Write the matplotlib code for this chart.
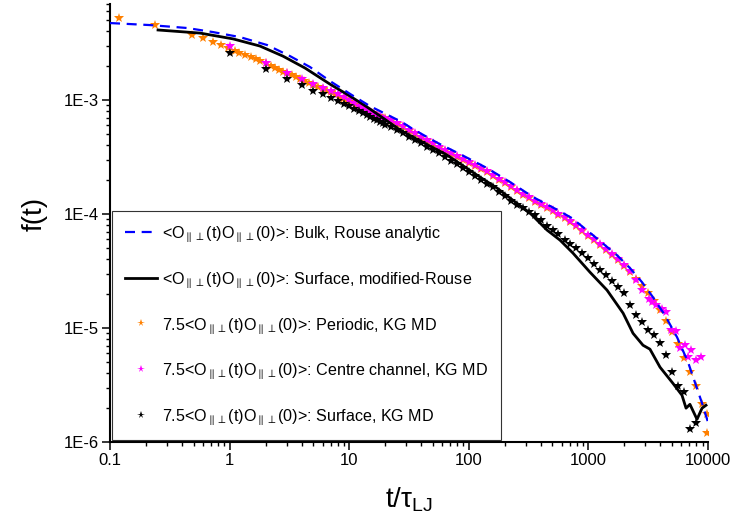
import matplotlib
matplotlib.use('Agg')
import matplotlib.pyplot as plt
import numpy as np
from matplotlib.ticker import FixedLocator, LogLocator, FuncFormatter, NullFormatter

# 字体
plt.rcParams['font.family'] = ['Liberation Sans', 'DejaVu Sans']
plt.rcParams['mathtext.fontset'] = 'custom'
plt.rcParams['mathtext.rm'] = 'Liberation Sans'
plt.rcParams['mathtext.it'] = 'Liberation Sans:italic'

# Bulk, Rouse analytic (blue dashed)
rouse_t = [0.1, 0.216, 0.44, 0.726, 1.22, 2.06, 3.2, 4.7, 6.9, 10.2,
           14.9, 21.9, 27.6, 34.1, 55.2, 87.6, 142, 221, 344, 557,
           729, 1090, 1730, 2230, 2810, 3470, 4370, 5510, 6810, 8910, 10000]
rouse_f = [4.74e-3, 4.55e-3, 4.29e-3, 3.95e-3, 3.57e-3, 3.04e-3, 2.43e-3, 1.95e-3, 1.47e-3, 1.13e-3,
           8.85e-4, 7.24e-4, 6.41e-4, 5.56e-4, 4.19e-4, 3.29e-4, 2.53e-4, 1.91e-4, 1.41e-4, 1.08e-4,
           9.20e-5, 6.53e-5, 4.36e-5, 3.35e-5, 2.52e-5, 1.86e-5, 1.29e-5, 8.30e-6, 5.01e-6, 2.19e-6, 1.49e-6]

# Surface, modified-Rouse (black line)
surf_t = [0.252, 0.566, 1.07, 1.79, 2.79, 4.27, 6.9, 10.2, 14.1, 19.2,
          26.6, 34.1, 65.8, 124, 172, 234, 325, 451, 579, 743,
          1030, 1430, 1950, 2360, 2860, 3270, 3970, 5090, 6060, 6550,
          7060, 8090, 8910, 9620]
surf_f = [4.12e-3, 3.87e-3, 3.44e-3, 2.98e-3, 2.43e-3, 1.91e-3, 1.38e-3, 1.08e-3, 8.69e-4, 6.95e-4,
          5.46e-4, 4.73e-4, 3.29e-4, 2.11e-4, 1.69e-4, 1.32e-4, 1.02e-4, 7.23e-5, 5.90e-5, 4.54e-5,
          3.09e-5, 2.15e-5, 1.35e-5, 8.99e-6, 7.06e-6, 6.52e-6, 4.53e-6, 3.27e-6, 2.57e-6, 1.98e-6,
          2.14e-6, 1.58e-6, 1.98e-6, 2.10e-6]

# Periodic, KG MD (orange stars)
per_t = [0.12, 0.24, 0.48, 0.6, 0.72, 0.84, 0.96, 1.1, 1.2, 1.35,
         1.5, 1.65, 1.8, 2.0, 2.2, 2.4, 2.6, 2.8, 3.0, 3.3,
         3.6, 3.9, 4.2, 4.6, 5.0, 5.5, 6.0, 6.5, 7.0, 7.6,
         8.2, 8.9, 9.6, 10.0, 11.2, 12.6, 14.1, 15.8, 17.8, 20.0,
         22.4, 25.1, 28.2, 31.6, 35.5, 39.8, 44.7, 50.1, 56.2, 63.1,
         70.8, 79.4, 89.1, 100, 112, 126, 141, 158, 178, 200,
         224, 251, 282, 316, 355, 398, 447, 501, 562, 631,
         708, 794, 891, 1000, 1122, 1259, 1413, 1585, 1778, 1995,
         2239, 2512, 2818, 3162, 3548, 3981, 4467, 5012, 5623, 6310,
         7079, 7943, 8913, 9772, 9900]
per_f = [5.25e-3, 4.56e-3, 3.72e-3, 3.47e-3, 3.23e-3, 3.04e-3, 2.89e-3, 2.72e-3, 2.61e-3, 2.48e-3,
         2.39e-3, 2.29e-3, 2.20e-3, 2.11e-3, 2.01e-3, 1.93e-3, 1.85e-3, 1.78e-3, 1.73e-3, 1.66e-3,
         1.59e-3, 1.53e-3, 1.47e-3, 1.41e-3, 1.35e-3, 1.30e-3, 1.25e-3, 1.21e-3, 1.18e-3, 1.12e-3,
         1.07e-3, 1.03e-3, 9.90e-4, 9.70e-4, 9.13e-4, 8.59e-4, 8.09e-4, 7.69e-4, 7.31e-4, 6.95e-4,
         6.61e-4, 6.22e-4, 5.85e-4, 5.40e-4, 5.03e-4, 4.69e-4, 4.37e-4, 4.11e-4, 3.83e-4, 3.60e-4,
         3.39e-4, 3.19e-4, 3.00e-4, 2.83e-4, 2.66e-4, 2.48e-4, 2.33e-4, 2.17e-4, 2.00e-4, 1.87e-4,
         1.72e-4, 1.60e-4, 1.48e-4, 1.38e-4, 1.28e-4, 1.20e-4, 1.13e-4, 1.06e-4, 9.88e-5, 9.20e-5,
         8.57e-5, 7.83e-5, 7.08e-5, 6.46e-5, 5.90e-5, 5.33e-5, 4.82e-5, 4.36e-5, 3.94e-5, 3.49e-5,
         3.09e-5, 2.71e-5, 2.35e-5, 2.02e-5, 1.72e-5, 1.43e-5, 1.15e-5, 9.19e-6, 7.21e-6, 5.43e-6,
         4.09e-6, 3.08e-6, 2.14e-6, 1.75e-6, 1.19e-6]

# Centre channel, KG MD (magenta stars)
cen_t = [1, 2, 3, 4, 5, 6, 7, 8, 9, 10,
         11, 12, 13, 14, 15, 16, 17, 18, 19, 20,
         22.4, 25.1, 28.2, 31.6, 35.5, 39.8, 44.7, 50.1, 56.2, 63.1,
         70.8, 79.4, 89.1, 100, 112, 126, 141, 158, 178, 200,
         224, 251, 282, 316, 355, 398, 447, 501, 562, 631,
         708, 794, 891, 1000, 1122, 1259, 1413, 1585, 1778, 1995,
         2239, 2512, 2818, 3211, 3402, 3675, 4126, 4455, 4905, 5401,
         5833, 6422, 6804, 7209, 7937, 8738]
cen_f = [2.98e-3, 2.11e-3, 1.73e-3, 1.53e-3, 1.38e-3, 1.27e-3, 1.20e-3, 1.13e-3, 1.06e-3, 1.01e-3,
         9.41e-4, 8.95e-4, 8.51e-4, 8.17e-4, 7.85e-4, 7.61e-4, 7.38e-4, 7.16e-4, 6.95e-4, 6.81e-4,
         6.74e-4, 6.35e-4, 5.97e-4, 5.51e-4, 5.13e-4, 4.78e-4, 4.46e-4, 4.19e-4, 3.91e-4, 3.67e-4,
         3.46e-4, 3.25e-4, 3.06e-4, 2.89e-4, 2.71e-4, 2.53e-4, 2.38e-4, 2.21e-4, 2.04e-4, 1.91e-4,
         1.75e-4, 1.63e-4, 1.51e-4, 1.41e-4, 1.31e-4, 1.22e-4, 1.15e-4, 1.08e-4, 1.01e-4, 9.38e-5,
         8.74e-5, 7.99e-5, 7.22e-5, 6.59e-5, 6.02e-5, 5.44e-5, 4.92e-5, 4.45e-5, 4.02e-5, 3.56e-5,
         3.15e-5, 2.63e-5, 2.15e-5, 1.79e-5, 1.68e-5, 1.59e-5, 1.46e-5, 1.38e-5, 9.57e-6, 9.37e-6,
         6.65e-6, 7.06e-6, 5.54e-6, 6.39e-6, 5.22e-6, 5.54e-6]

# Surface, KG MD (black stars)
ks_t = [1, 2, 3, 4, 5, 6, 7, 8, 9, 10,
        11, 12, 13, 14, 15, 16, 17, 18, 19, 20,
        22.4, 25.1, 28.2, 31.6, 35.5, 39.8, 44.7, 50.1, 56.2, 63.1,
        70.8, 79.4, 89.1, 100, 112, 126, 141, 158, 178, 200,
        224, 251, 282, 316, 355, 398, 447, 501, 562, 631,
        708, 794, 891, 1000, 1122, 1259, 1413, 1585, 1778, 1995,
        2239, 2512, 2818, 3162, 3548, 3981, 4467, 5012, 5623, 6310,
        7079, 7943]
ks_f = [2.59e-3, 1.87e-3, 1.53e-3, 1.35e-3, 1.20e-3, 1.13e-3, 1.04e-3, 9.80e-4, 9.22e-4, 8.86e-4,
        8.42e-4, 8.00e-4, 7.69e-4, 7.38e-4, 7.09e-4, 6.88e-4, 6.67e-4, 6.47e-4, 6.28e-4, 6.09e-4,
        5.85e-4, 5.51e-4, 5.18e-4, 4.78e-4, 4.45e-4, 4.19e-4, 3.91e-4, 3.64e-4, 3.43e-4, 3.16e-4,
        2.94e-4, 2.74e-4, 2.53e-4, 2.36e-4, 2.17e-4, 2.00e-4, 1.85e-4, 1.71e-4, 1.57e-4, 1.44e-4,
        1.31e-4, 1.21e-4, 1.13e-4, 1.05e-4, 9.78e-5, 8.84e-5, 7.83e-5, 7.22e-5, 6.66e-5, 5.96e-5,
        5.50e-5, 5.02e-5, 4.54e-5, 4.10e-5, 3.63e-5, 3.22e-5, 2.91e-5, 2.58e-5, 2.30e-5, 2.02e-5,
        1.59e-5, 1.30e-5, 1.12e-5, 9.57e-6, 8.65e-6, 7.35e-6, 5.77e-6, 4.09e-6, 3.08e-6, 2.73e-6,
        1.29e-6, 1.46e-6]

x_ticks = [0.1, 1, 10, 100, 1000, 10000]
x_ticklabels = ['0.1', '1', '10', '100', '1000', '10000']
y_ticks = [1e-6, 1e-5, 1e-4, 1e-3]

sub = r'$_{\parallel\perp}$'
labels = ['<O' + sub + '(t)O' + sub + '(0)>: Bulk, Rouse analytic',
          '<O' + sub + '(t)O' + sub + '(0)>: Surface, modified-Rouse',
          '7.5<O' + sub + '(t)O' + sub + '(0)>: Periodic, KG MD',
          '7.5<O' + sub + '(t)O' + sub + '(0)>: Centre channel, KG MD',
          '7.5<O' + sub + '(t)O' + sub + '(0)>: Surface, KG MD']

fig = plt.figure(figsize=(7.34, 5.29), dpi=100)
ax = fig.add_axes([0.1499, 0.1645, 0.8147, 0.8284])

h3, = ax.plot(per_t, per_f, ls='none', marker='*', ms=7.5, color='#FF8000', mew=0, zorder=2, label=labels[2])
h4, = ax.plot(cen_t, cen_f, ls='none', marker='*', ms=7.5, color='#FF00FF', mew=0, zorder=3, label=labels[3])
h5, = ax.plot(ks_t, ks_f, ls='none', marker='*', ms=7.5, color='black', mew=0, zorder=4, label=labels[4])
h2, = ax.plot(surf_t, surf_f, '-', color='black', lw=2.0, zorder=5, label=labels[1])
h1, = ax.plot(rouse_t, rouse_f, color='#0000FF', lw=1.6, ls=(0, (4.5, 3)), zorder=6, label=labels[0])

ax.set_xscale('log')
ax.set_yscale('log')
ax.set_xlim(0.1, 10000)
ax.set_ylim(1e-6, 7e-3)

ax.xaxis.set_major_locator(FixedLocator(x_ticks))
ax.xaxis.set_major_formatter(FuncFormatter(lambda v, p: x_ticklabels[x_ticks.index(v)] if v in x_ticks else ''))
ax.xaxis.set_minor_locator(LogLocator(base=10, subs=range(2, 10)))
ax.xaxis.set_minor_formatter(NullFormatter())
ax.yaxis.set_major_locator(FixedLocator(y_ticks))
ax.yaxis.set_major_formatter(FuncFormatter(lambda v, p: '1E%d' % int(round(np.log10(v)))))
ax.yaxis.set_minor_locator(LogLocator(base=10, subs=range(2, 10)))
ax.yaxis.set_minor_formatter(NullFormatter())

for s in ['top', 'right']:
    ax.spines[s].set_visible(False)
for s in ['left', 'bottom']:
    ax.spines[s].set_linewidth(1.5)
ax.tick_params(which='major', direction='out', length=5.5, width=1.1, labelsize=12, pad=2.5)
ax.tick_params(which='minor', direction='out', length=3, width=1.0)

ax.set_ylabel('f(t)', fontsize=20)
ax.yaxis.set_label_coords(-0.105, 0.52)
ax.set_xlabel(r't/τ$_{\mathregular{LJ}}$', fontsize=20)
ax.xaxis.set_label_coords(0.5, -0.1)

leg = ax.legend(handles=[h1, h2, h3, h4, h5], loc='lower left', bbox_to_anchor=(0.003, 0.005),
                fontsize=11.6, handlelength=2.0, handletextpad=0.3, labelspacing=1.6,
                borderpad=0.8, borderaxespad=0, numpoints=1, markerscale=0.75,
                frameon=True, fancybox=False, framealpha=1)
leg.get_frame().set_edgecolor('#333333')
leg.get_frame().set_linewidth(0.8)
leg.set_zorder(10)

fig.savefig('out.png', dpi=100)
